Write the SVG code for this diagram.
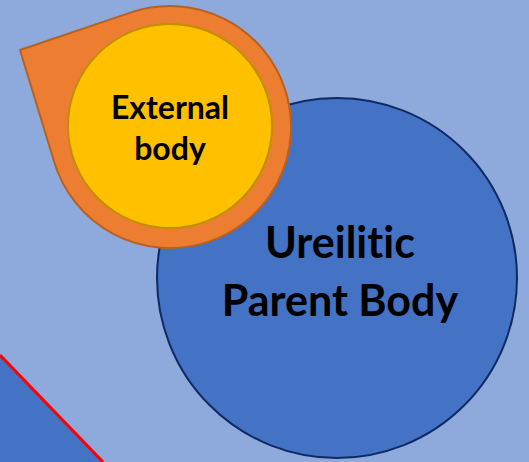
<svg xmlns="http://www.w3.org/2000/svg" width="529" height="462" viewBox="0 0 529 462">
<style>
.lbl{font-family:Lato,"Open Sans","Liberation Sans",sans-serif;font-weight:bold;fill:#000;text-anchor:middle;font-variant-ligatures:none;font-feature-settings:"liga" 0}
</style>
<rect x="0" y="0" width="529" height="462" fill="#8EA9DB"/>
<g id="corner">
<polygon points="0,355 103,462 0,462" fill="#4472C4"/>
<line x1="0" y1="355" x2="103" y2="462" stroke="#FF0000" stroke-width="3"/>
</g>
<g id="parent-body">
<circle cx="337" cy="278" r="180" fill="#4472C4" stroke="#0E2A63" stroke-width="2"/>
<text class="lbl" x="340" y="258" font-size="43">Ureilitic</text>
<text class="lbl" x="340" y="316" font-size="43">Parent Body</text>
</g>
<g id="external-body">
<path d="M20 50 L131.2 12.4 A121 121 0 1 1 54.3 162.3 Z" fill="#ED7D31" stroke="#B8611F" stroke-width="2"/>
<circle cx="170" cy="126" r="102" fill="#FFC000" stroke="#BF9000" stroke-width="2"/>
<text class="lbl" x="170" y="119" font-size="32">External</text>
<text class="lbl" x="170" y="160" font-size="32">body</text>
</g>
<g id="connectors"></g>
</svg>
